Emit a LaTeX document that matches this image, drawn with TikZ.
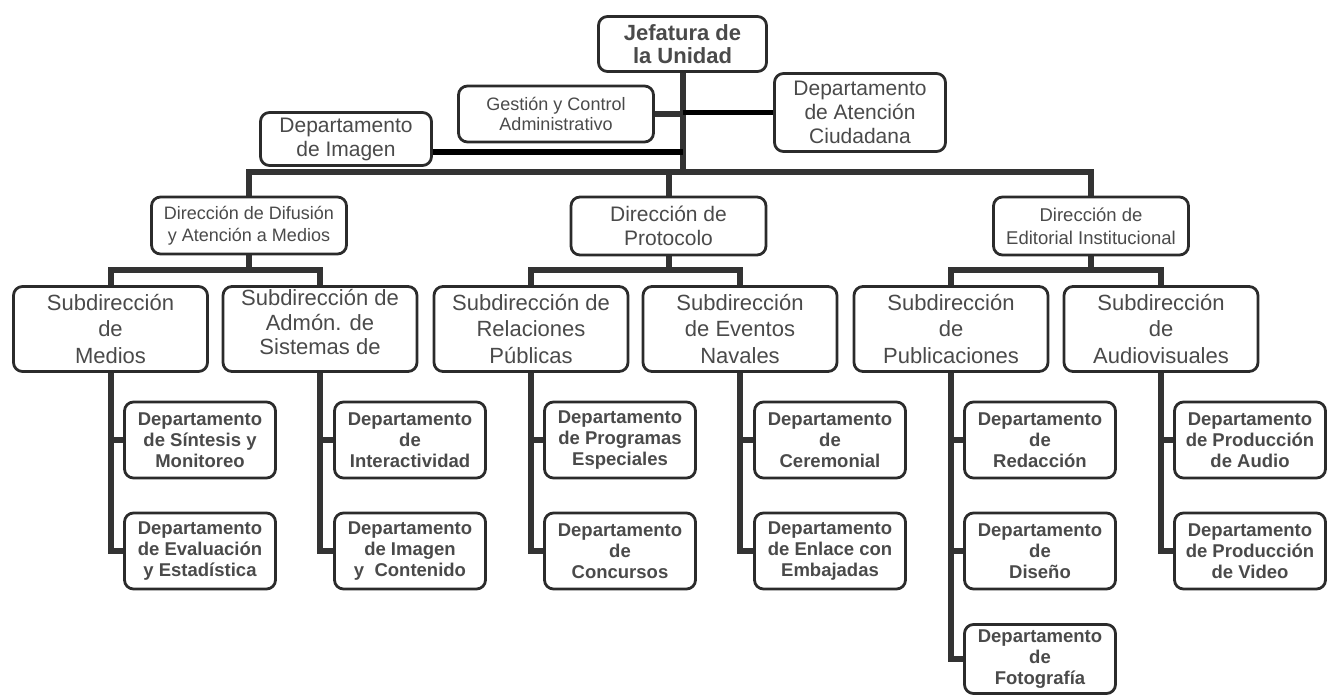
\documentclass[tikz,border=0pt]{standalone}
\usepackage{fontspec}
\setmainfont{Liberation Sans}
\usetikzlibrary{backgrounds}
\definecolor{linec}{HTML}{333333}
\definecolor{boxc}{HTML}{2B2B2B}
\definecolor{txtc}{HTML}{4A4A4A}

\tikzset{
  box/.style={draw=boxc, line width=2.8pt, rounded corners=9pt, fill=white,
    align=center, inner sep=0pt, text=txtc},
  headbox/.style={box, minimum width=168pt, minimum height=55pt,
    font=\fontsize{22}{23.5}\selectfont\bfseries},
  staffbox/.style={box, font=\fontsize{21}{24}\selectfont},
  gesbox/.style={box, minimum width=195pt, minimum height=56pt,
    font=\fontsize{18}{19.5}\selectfont},
  dirbox/.style={box, minimum width=195pt, minimum height=57pt},
  subbox/.style={box, minimum width=194pt, minimum height=85pt,
    font=\fontsize{22}{26.5}\selectfont},
  deptbox/.style={box, minimum width=151pt, minimum height=76pt,
    font=\fontsize{18.5}{21}\selectfont\bfseries},
  conn/.style={draw=linec, line width=6pt},
  blk/.style={draw=black, line width=5.5pt}
}

\begin{document}
\begin{tikzpicture}[x=1pt,y=-1pt]
\useasboundingbox (0,0) rectangle (1329,696);

% head and staff units
\node[headbox] (jef) at (682.5,44) {Jefatura de\\la Unidad};
\node[gesbox] (ges) at (556,114) {Gestión y Control\\Administrativo};
\node[staffbox, minimum width=171pt, minimum height=78pt] (ate) at (860,112.5)
  {Departamento\\de Atención\\Ciudadana};
\node[staffbox, minimum width=171pt, minimum height=53pt] (img) at (346,139)
  {Departamento\\de Imagen};

% directions
\node[dirbox, font=\fontsize{18}{22}\selectfont] (dif) at (249,225.5)
  {Dirección de Difusión\\y Atención a Medios};
\node[dirbox, minimum height=58pt, font=\fontsize{21}{24}\selectfont] (pro) at (668.5,226)
  {Dirección de\\Protocolo};
\node[dirbox, minimum height=58pt, font=\fontsize{18.5}{23}\selectfont] (edi) at (1091,226)
  {Dirección de\\Editorial Institucional};

% sub-directions
\node[subbox] (med) at (110.5,329) {Subdirección\\de\\Medios};
\node[subbox, text depth=14pt, font=\fontsize{22}{24.5}\selectfont] (adm) at (320,329)
  {Subdirección de\\Admón. de\\Sistemas de};
\node[subbox] (rel) at (531,329) {Subdirección de\\Relaciones\\Públicas};
\node[subbox] (eve) at (740,329) {Subdirección\\de Eventos\\Navales};
\node[subbox] (pub) at (951,329) {Subdirección\\de\\Publicaciones};
\node[subbox] (aud) at (1161,329) {Subdirección\\de\\Audiovisuales};

% departments
\node[deptbox] (med1) at (200,440) {Departamento\\de Síntesis y\\Monitoreo};
\node[deptbox] (med2) at (200,551) {Departamento\\de Evaluación\\y Estadística};
\node[deptbox] (adm1) at (410,440) {Departamento\\de\\Interactividad};
\node[deptbox] (adm2) at (410,551) {Departamento\\de Imagen\\y\ \ Contenido};
\node[deptbox] (rel1) at (620,440) {Departamento\\de Programas\\Especiales};
\node[deptbox] (rel2) at (620,551) {Departamento\\de\\Concursos};
\node[deptbox] (eve1) at (830,440) {Departamento\\de\\Ceremonial};
\node[deptbox] (eve2) at (830,551) {Departamento\\de Enlace con\\Embajadas};
\node[deptbox] (pub1) at (1040,440) {Departamento\\de\\Redacción};
\node[deptbox] (pub2) at (1040,551) {Departamento\\de\\Diseño};
\node[deptbox, minimum height=69pt] (pub3) at (1040,659) {Departamento\\de\\Fotografía};
\node[deptbox] (aud1) at (1250,440) {Departamento\\de Producción\\de Audio};
\node[deptbox] (aud2) at (1250,551) {Departamento\\de Producción\\de Video};

\coordinate (bus) at (682.5,172);
\coordinate (difbus) at (249,270);
\coordinate (probus) at (668.5,270);
\coordinate (edibus) at (1091,270);

\begin{pgfonlayer}{background}
  % trunk and main bus
  \draw[conn] (jef.south) -- (bus);
  \draw[conn] (dif.north) -- (dif.north |- bus) -- (edi.north |- bus) -- (edi.north);
  \draw[conn] (pro.north) -- (pro.north |- bus);
  % staff units
  \draw[conn] (ges.east) -- (ges.east -| jef.south);
  \draw[blk] (ate.west) -- (ate.west -| jef.south);
  \draw[blk] ([yshift=-13pt]img.east) -- ([yshift=-13pt]img.east -| jef.south);
  % direction buses
  \draw[conn] (dif.south) -- (difbus);
  \draw[conn] (med.north) -- (med.north |- difbus) -- (adm.north |- difbus) -- (adm.north);
  \draw[conn] (pro.south) -- (probus);
  \draw[conn] (rel.north) -- (rel.north |- probus) -- (eve.north |- probus) -- (eve.north);
  \draw[conn] (edi.south) -- (edibus);
  \draw[conn] (pub.north) -- (pub.north |- edibus) -- (aud.north |- edibus) -- (aud.north);
  % department branches
  \foreach \s/\d in {med/med1,med/med2,adm/adm1,adm/adm2,rel/rel1,rel/rel2,
                     eve/eve1,eve/eve2,pub/pub1,pub/pub2,pub/pub3,aud/aud1,aud/aud2}
    \draw[conn] (\s.south) -- (\s.south |- \d.west) -- (\d.west);
\end{pgfonlayer}
\end{tikzpicture}
\end{document}
